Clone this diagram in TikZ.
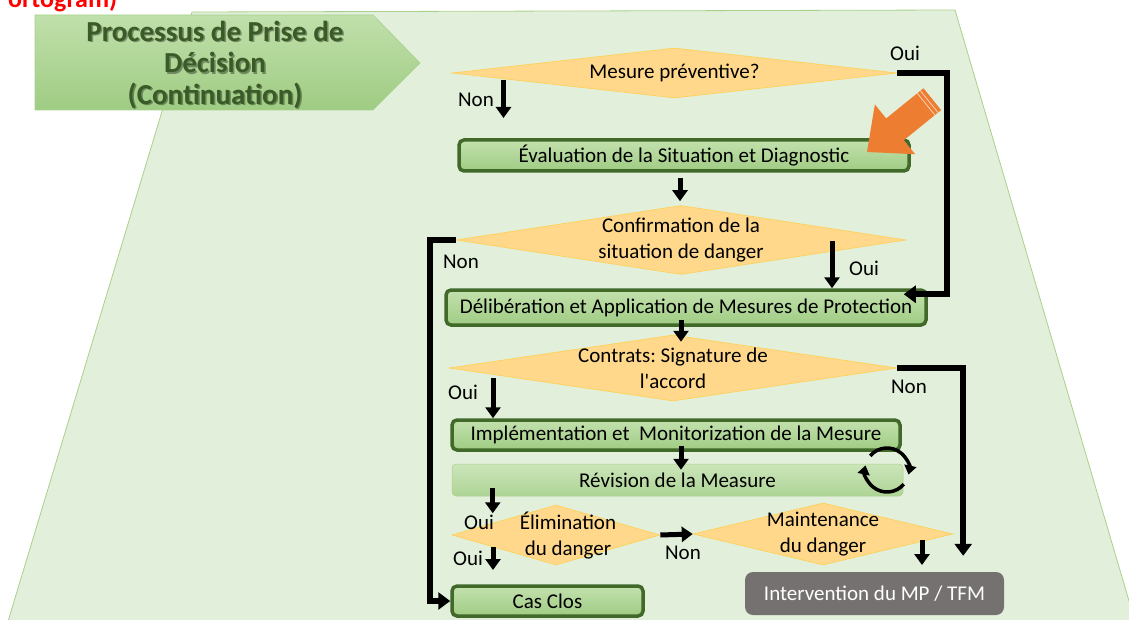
\documentclass[tikz,border=0pt]{standalone}
\usepackage{fontspec}
\setmainfont{Carlito}
\usetikzlibrary{shapes.geometric,arrows.meta,calc}
\frenchspacing
\definecolor{bgfill}{HTML}{E2EFDA}
\definecolor{bgline}{HTML}{A9D18E}
\definecolor{gtop}{HTML}{C3E1AE}
\definecolor{gbot}{HTML}{9FCC83}
\definecolor{gborder}{HTML}{41692A}
\definecolor{dfill}{HTML}{FFD88C}
\definecolor{dline}{HTML}{FFD050}
\definecolor{titletext}{HTML}{3A5A28}
\definecolor{orangearr}{HTML}{ED7D31}
\definecolor{stripe}{HTML}{F8CBAD}
\definecolor{grayfill}{HTML}{767171}
\tikzset{
  gbox/.style={draw=gborder, line width=3.5pt, rounded corners=5pt, top color=gtop, bottom color=gbot, inner sep=0pt, font=\fontsize{21}{24}\selectfont},
  rbox/.style={draw=bgline, line width=0.5pt, rounded corners=4pt, top color=gtop!85!white, bottom color=gbot!85!white, inner sep=0pt, font=\fontsize{21}{24}\selectfont},
  graybox/.style={fill=grayfill, rounded corners=8pt, inner sep=0pt, text=white, font=\fontsize{21}{24}\selectfont},
  dia/.style={diamond, draw=dline, line width=0.6pt, fill=dfill, inner sep=0pt},
  dtext/.style={align=center, inner sep=0pt, font=\fontsize{21}{26}\selectfont},
  lab/.style={font=\fontsize{21}{24}\selectfont, inner sep=0pt},
  arr/.style={line width=5pt, -{Triangle[width=15pt,length=11pt]}},
  bigarr/.style={line width=6pt, -{Triangle[width=17pt,length=12pt]}},
  cyc/.style={line width=3.5pt, -{Triangle[width=12pt,length=9pt]}},
  titlefont/.style={align=center, font=\bfseries\fontsize{29}{31.5}\selectfont}
}
\begin{document}
\begin{tikzpicture}[x=1pt,y=-1pt]
\useasboundingbox (0,0) rectangle (1129,620);
\clip (0,0) rectangle (1129,620);
% background trapezoid
\filldraw[fill=bgfill, draw=bgline, line width=0.8pt] (192,12) -- (955,10) -- (1137,628) -- (6,628) -- cycle;
% red cut text (cut by the top edge, as in the reference)
\node[anchor=base west, text=red, inner sep=0pt, font=\bfseries\fontsize{26}{26}\selectfont] (redtxt) at (8,8) {ortogram)};
% title
\shade[top color=gtop!90!bgline, bottom color=gbot, draw=bgline, line width=0.6pt]
  (35,15) -- (373,15) -- (420,63) -- (373,110) -- (35,110) -- cycle;
\node[titlefont, text=black, opacity=0.35] (titleshadow) at (216.5,66.5) {Processus de Prise de\\Décision\\(Continuation)};
\node[titlefont, text=titletext] (title) at (215,65) {Processus de Prise de\\Décision\\(Continuation)};

% diamonds
\node[dia, minimum width=445pt, minimum height=50pt] (d1) at (674.5,73) {};
\node[dtext] (d1t) at (d1) {Mesure préventive?};
\node[dia, minimum width=450pt, minimum height=69pt] (d2) at (681,240) {};
\node[dtext] (d2t) at (d2) {Confirmation de la\\situation de danger};
\node[dia, minimum width=448pt, minimum height=66pt] (d3) at (673,368) {};
\node[dtext] (d3t) at (d3) {Contrats: Signature de\\l\textquotesingle accord};
\node[dia, minimum width=208pt, minimum height=60pt] (d4) at (556,535) {};
\node[dtext] (d4t) at (568,536) {Élimination\\du danger};
\node[dia, minimum width=260pt, minimum height=62pt] (d5) at (823,534) {};
\node[dtext] (d5t) at (d5) {Maintenance\\du danger};

% boxes
\node[gbox, minimum width=450pt, minimum height=31pt] (eval) at (684,155.5) {Évaluation de la Situation et Diagnostic};
\node[gbox, minimum width=480pt, minimum height=35pt] (delib) at (686,307.5) {Délibération et Application de Mesures de Protection};
\node[gbox, minimum width=448pt, minimum height=30pt] (impl) at (676,435) {Implémentation et\ \ Monitorization de la Mesure};
\node[rbox, minimum width=451pt, minimum height=32pt] (rev) at (677.5,480) {Révision de la Measure};
\node[gbox, minimum width=191pt, minimum height=30pt] (cas) at (547.5,601) {Cas Clos};
\node[graybox, minimum width=259pt, minimum height=43pt] (interv) at (874.5,593.5) {Intervention du MP / TFM};

% orange block arrow
\begin{scope}[shift={(867,152)}, rotate=39]
\fill[orangearr] (0,0) -- (36,-32) -- (36,-14) -- (84,-14) -- (84,14) -- (36,14) -- (36,32) -- cycle;
\draw[stripe, line width=0.9pt] (76,-14) -- (76,14) (80,-14) -- (80,14);
\end{scope}

% helper points
\coordinate (ouiD2) at ($(d2.center)+(151,1)$);
\coordinate (ouiD3) at ($(d3.center)+(-180,10)$);

% connectors
\draw[arr] ($(d1.center)+(-171,7)$) -- ++(0,38);
\draw[bigarr] (d1.east) -- ++(50,0) |- ($(delib.north east)+(-24,6)$);
\draw[arr] ($(eval.south)+(-4,5)$) -- ($(d2.north)+(-1,-4)$);
\draw[bigarr] (d2.west) -- ++(-26,0) |- (cas.west);
\draw[arr] (ouiD2) -- (ouiD2 |- delib.north);
\draw[arr] ($(delib.south)+(-5,-7)$) -- ++(0,22);
\draw[bigarr] (d3.east) -| ($(interv.north east)+(-41,-16)$);
\draw[arr] (ouiD3) -- (ouiD3 |- impl.north);
\draw[arr] ($(impl.south)+(5,-6)$) -- ++(0,24);
\draw[arr] ($(rev.south west)+(41,-8)$) -- ++(0,25);
\draw[arr] (d4.east) -- (d5.west);
\draw[arr] ($(d4.center)+(-63,12)$) -- ++(0,23);
\draw[arr] ($(d5.center)+(99,6)$) -- ++(0,25);

% cycle arrows
\coordinate (cyc) at (887,470);
\draw[cyc] ($(cyc)+(220:22)$) arc[start angle=220, end angle=372, radius=22];
\draw[cyc] ($(cyc)+(40:22)$) arc[start angle=40, end angle=192, radius=22];

% labels
\node[lab] (oui1) at (905,53) {Oui};
\node[lab] (non1) at (476,100) {Non};
\node[lab] (non2) at (461,262) {Non};
\node[lab] (oui2) at (864,268) {Oui};
\node[lab] (oui3) at (463,392) {Oui};
\node[lab] (non3) at (909,387) {Non};
\node[lab] (oui4) at (479,522) {Oui};
\node[lab] (oui5) at (468,558) {Oui};
\node[lab] (non4) at (683,553) {Non};
\end{tikzpicture}
\end{document}
